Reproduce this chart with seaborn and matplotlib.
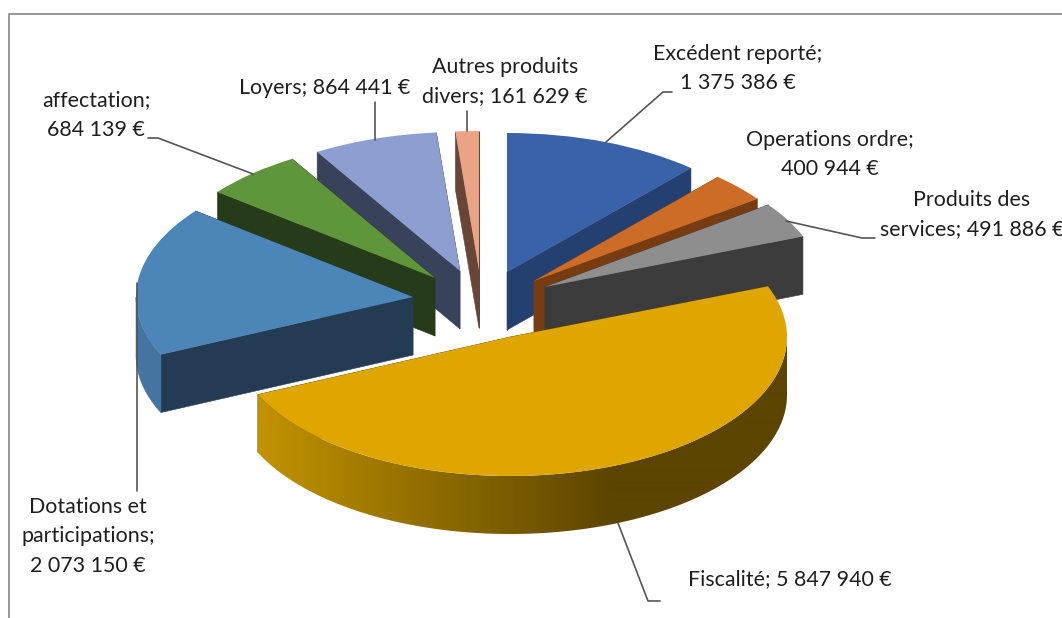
import numpy as np
import matplotlib
matplotlib.use("Agg")
import matplotlib.pyplot as plt
import seaborn as sns
from matplotlib.colors import LinearSegmentedColormap
from matplotlib.patches import Polygon

# --- data ---------------------------------------------------------------
categories = ["Excédent reporté", "Operations ordre", "Produits des services", "Fiscalité",
              "Dotations et participations", "affectation", "Loyers", "Autres produits divers"]
values = [1375386, 400944, 491886, 5847940, 2073150, 684139, 864441, 161629]
label_heads = ["Excédent reporté;\n", "Operations ordre;\n", "Produits des\nservices; ", "Fiscalité; ",
               "Dotations et\nparticipations;\n", "affectation;\n", "Loyers; ", "Autres produits\ndivers; "]

# --- styles -------------------------------------------------------------
top_colors = ["#3A62A8", "#CC6C26", "#8E8E8E", "#DFA600", "#4C85B8", "#60963B", "#8C9FD0", "#EAA485"]
cut_colors = ["#244070", "#773C12", "#3C3C3C", "#5C4500", "#243B54", "#263B17", "#38425A", "#674637"]
rim_colors = ["#2A4C86", "#8A4A18", "#4A4A4A", None, "#44749F", "#3A5A24", "#505E82", "#8A5A46"]
# slice apex positions in pixels, after explosion
tips_px = [(507, 272), (534, 281), (545, 287), (510, 337), (413, 297), (435, 278), (460, 271), (479, 270)]
draw_order = [7, 6, 0, 5, 1, 2, 4, 3]
label_pos = [(738, 68.5), (830, 154.5), (972, 214.5), (790, 579), (88, 536.5), (96, 115.5), (325, 88), (505, 81.5)]
leaders = [[(672, 92), (663, 92), (606, 142)],
           [],
           [(875, 238), (862, 238), (786, 221)],
           [(618, 523), (648, 601), (660, 601)],
           [(137, 283), (137, 491)],
           [(148, 138), (158, 138), (253, 174)],
           [(375, 102), (375, 140)],
           [(467, 111), (467, 131)]]
W, H = 1062, 618
RX, RY, DEPTH = 277.0, 139.0, 58.0
TEXT = "#1E1E1E"

sns.set_theme(style="white")
plt.rcParams["font.family"] = ["Lato", "DejaVu Sans"]

fig = plt.figure(figsize=(W / 100, H / 100), dpi=100, facecolor="white")
ax = fig.add_axes([0, 0, 1, 1])


def X(px):
    return px / RX


def Y(py):
    return (H - py) / RY


wedges, _ = ax.pie(values, startangle=90, counterclock=False, radius=1,
                   colors=top_colors, wedgeprops=dict(linewidth=0))
d = DEPTH / RY
shade = LinearSegmentedColormap.from_list("shade", ["#C29300", "#5C4500"])

for z, i in enumerate(draw_order):
    w = wedges[i]
    cx, cy = X(tips_px[i][0]), Y(tips_px[i][1])
    w.set_center((cx, cy))
    base = 10 + 3 * z
    w.set_zorder(base + 2)
    t1, t2 = np.radians(w.theta1), np.radians(w.theta2)
    # the two cut faces
    for t in (t1, t2):
        ex, ey = cx + np.cos(t), cy + np.sin(t)
        ax.fill([cx, ex, ex, cx], [cy, ey, ey - d, cy - d], color=cut_colors[i], lw=0.4, zorder=base)
    # the outer rim, only where it faces the viewer (lower half of the ellipse)
    for shift in (0, -360):
        a, b = max(w.theta1, -180 + shift), min(w.theta2, 0 + shift)
        if a >= b:
            continue
        th = np.radians(np.linspace(a, b, 160))
        xs, ys = cx + np.cos(th), cy + np.sin(th)
        px_, py_ = np.r_[xs, xs[::-1]], np.r_[ys, ys[::-1] - d]
        if rim_colors[i] is not None:
            ax.fill(px_, py_, color=rim_colors[i], lw=0.4, zorder=base + 1)
        else:
            # horizontal shading of the large slice, clipped to its rim
            poly = Polygon(np.c_[px_, py_], closed=True, transform=ax.transData, fc="none", ec="none")
            ax.add_patch(poly)
            ramp = np.clip((np.arange(W) - 256.0) / (612.0 - 256.0), 0, 1)[None, :]
            im = ax.imshow(ramp, cmap=shade, vmin=0, vmax=1, aspect="auto", extent=(0, X(W), 0, Y(0)),
                           origin="lower", zorder=base + 1, interpolation="bilinear")
            im.set_clip_path(poly)

ax.set_aspect("auto")
ax.set_xlim(0, W / RX)
ax.set_ylim(0, H / RY)
ax.axis("off")

# leader lines
for pts in leaders:
    if pts:
        ax.plot([X(p[0]) for p in pts], [Y(p[1]) for p in pts], color="#555555", lw=1.2, zorder=60)

# data labels
for head, v, (px, py) in zip(label_heads, values, label_pos):
    txt = head + f"{v:,}".replace(",", " ") + " €"
    ax.text(X(px), Y(py), txt, ha="center", va="center", ma="center", fontsize=15.4, color=TEXT,
            linespacing=1.62, zorder=70, clip_on=True)

# chart frame, partly cropped in the source
ax.plot([X(8.5), X(8.5), X(W)], [Y(H), Y(13.5), Y(13.5)], color="#868686", lw=1.2, zorder=80)

fig.savefig("out.png", dpi=100, facecolor="white")
